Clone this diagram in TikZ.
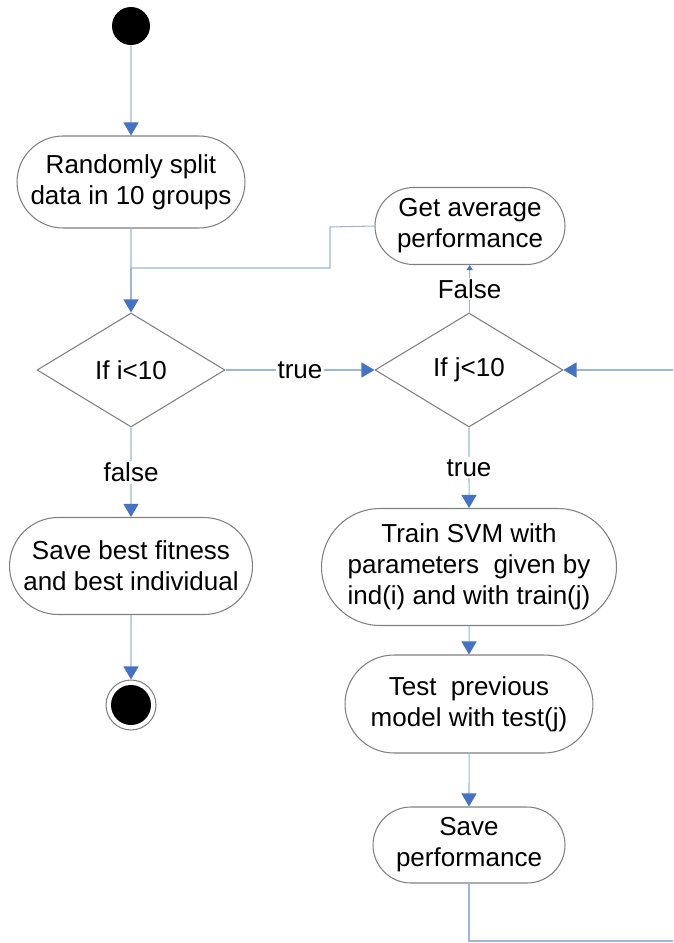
\documentclass[tikz,border=0pt]{standalone}
\usepackage{fontspec}
\setmainfont{Liberation Sans}
\usetikzlibrary{arrows.meta, shapes.misc, shapes.geometric}
\definecolor{flowline}{HTML}{9DB5DD}
\definecolor{flowtip}{HTML}{4472C4}
\definecolor{boxline}{HTML}{808080}
\begin{document}
\begin{tikzpicture}[x=0.02cm, y=-0.02cm,
  font=\fontsize{14.8}{17.6}\selectfont,
  activity/.style={rounded rectangle, draw=boxline, line width=0.6pt, fill=white, align=center, inner sep=0pt},
  choice/.style={diamond, draw=boxline, line width=0.6pt, fill=white, inner sep=0pt, minimum width=3.76cm, minimum height=2.28cm},
  flow/.style={draw=flowline, line width=0.6pt, -{Triangle[color=flowtip, width=0.3cm, length=0.26cm]}},
  link/.style={draw=flowline, line width=0.6pt},
  guard/.style={fill=white, inner sep=1pt}]
  \useasboundingbox (0,0) rectangle (673,943);
  % start and the outer loop
  \node (start) [circle, fill=black, minimum size=0.76cm, inner sep=0pt] at (131,26) {};
  \node (split) [activity, minimum width=4.56cm, minimum height=1.84cm] at (131,182) {Randomly split\\data in 10 groups};
  \node (ifi) [choice] at (131,370) {If i<10};
  \node (savebest) [activity, minimum width=4.86cm, minimum height=1.94cm] at (131,566) {Save best fitness\\and best individual};
  \node (end) [circle, draw=boxline, line width=0.6pt, fill=white, minimum size=1cm, inner sep=0pt] at (131,705) {};
  \fill (end) circle (0.4cm);
  % inner loop over the groups
  \node (avg) [activity, minimum width=3.8cm, minimum height=1.54cm] at (470,226) {Get average\\performance};
  \node (ifj) [choice] at (469,370) {If j<10};
  \node (train) [activity, minimum width=5.9cm, minimum height=2.34cm] at (469,567) {Train SVM with\\parameters\ \ given by\\ind(i) and with train(j)};
  \node (test) [activity, minimum width=4.96cm, minimum height=1.96cm] at (469,704) {Test\ \ previous\\model with test(j)};
  \node (saveperf) [activity, minimum width=3.84cm, minimum height=1.52cm] at (469,845) {Save\\performance};
  \coordinate (join) at (131,268);
  \coordinate (bend) at (330,227);
  \coordinate (back) at (673,941);
  \coordinate (edge) at (673,370);

  \draw[flow] (start) -- (split);
  \draw[link] (split) -- (join);
  \draw[flow] (join) -- (ifi);
  \draw[link] (avg.west) -- (bend) |- (join);
  \draw[flow] (ifi) -- node[guard] {true} (ifj);
  \draw[flow] (ifi) -- node[guard] {false} (savebest);
  \draw[flow] (savebest) -- (end);
  \draw[draw=flowline, line width=0.6pt, -{Triangle[color=flowtip, width=0.12cm, length=0.1cm]}] (ifj) -- node[guard] {False} (avg);
  \draw[flow] (ifj) -- node[guard] {true} (train);
  \draw[flow] (train) -- (test);
  \draw[flow] (test) -- (saveperf);
  \draw[link] (saveperf) |- (back);
  \draw[flow] (edge) -- (ifj);
\end{tikzpicture}
\end{document}
